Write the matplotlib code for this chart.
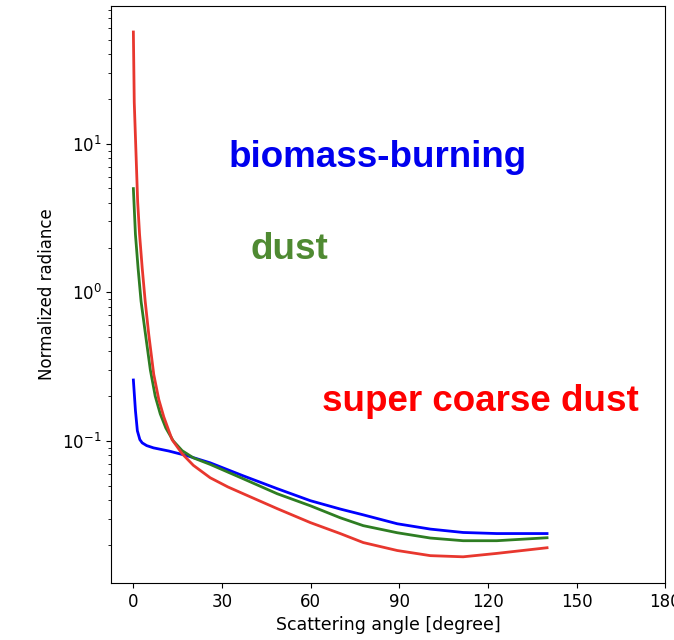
import matplotlib.pyplot as plt

# scattering angle [deg] and normalized radiance
bb_angle = [0, 0.7, 1.35, 2.2, 3, 4.5, 6.8, 12, 18.3, 26, 37.2, 48.7, 59.9, 70, 77.8, 89.3, 100.5, 111.6, 123, 140]
bb_rad = [0.257, 0.16, 0.117, 0.102, 0.097, 0.093, 0.0898, 0.0855, 0.0794, 0.0712, 0.0582, 0.0477, 0.0396, 0.0348, 0.0318, 0.0277, 0.0255, 0.0242, 0.0238, 0.0238]

dust_angle = [0, 0.7, 1.6, 2.6, 4.1, 5.75, 7.4, 9.1, 11, 13.5, 16.5, 20.3, 26, 37.2, 48.7, 59.9, 70, 77.8, 89.3, 100.5, 111.6, 123, 140]
dust_rad = [4.99, 2.45, 1.45, 0.871, 0.522, 0.3, 0.2, 0.152, 0.122, 0.1, 0.086, 0.0769, 0.0695, 0.0556, 0.0441, 0.0366, 0.0304, 0.0269, 0.0241, 0.0222, 0.0213, 0.0213, 0.0223]

sc_angle = [0, 0.3, 1.45, 2.1, 3.0, 4.0, 5.2, 6.9, 8.6, 10.3, 13.1, 16.5, 20.3, 26, 32, 37.2, 48.7, 59.9, 70, 77.8, 89.3, 100.5, 111.6, 123, 140]
sc_rad = [56.5, 19, 4.08, 2.45, 1.45, 0.871, 0.522, 0.28, 0.19, 0.145, 0.102, 0.082, 0.0685, 0.0565, 0.049, 0.0441, 0.035, 0.0282, 0.0238, 0.0207, 0.0183, 0.0169, 0.0166, 0.0175, 0.0191]

fig = plt.figure(figsize=(6.74, 6.40), dpi=100)
ax = fig.add_axes([0.165, 0.089, 0.822, 0.902])

ax.plot(bb_angle, bb_rad, color='blue', lw=2)
ax.plot(dust_angle, dust_rad, color='#2e7d22', lw=2)
ax.plot(sc_angle, sc_rad, color='#e8372e', lw=2)
ax.set_yscale('log')
ax.set_xlim(-7.5, 180)
ax.set_xticks([0, 30, 60, 90, 120, 150, 180])
ax.tick_params(labelsize=12)

ax.set_xlabel('Scattering angle [degree]', fontsize=12.5)
ax.set_ylabel('Normalized radiance', fontsize=12,
              family=['Liberation Sans Narrow', 'DejaVu Sans'])

ax.text(0.211, 0.738, 'biomass-burning', transform=ax.transAxes, color='#0000ee',
        fontsize=26.5, fontweight='bold', family='Liberation Sans', va='center')
ax.text(0.251, 0.577, 'dust', transform=ax.transAxes, color='#4f8a32',
        fontsize=26.5, fontweight='bold', family='Liberation Sans', va='center')
ax.text(0.381, 0.314, 'super coarse dust', transform=ax.transAxes, color='#ff0000',
        fontsize=26.5, fontweight='bold', family='Liberation Sans', va='center')

fig.savefig('out.png', dpi=100)
